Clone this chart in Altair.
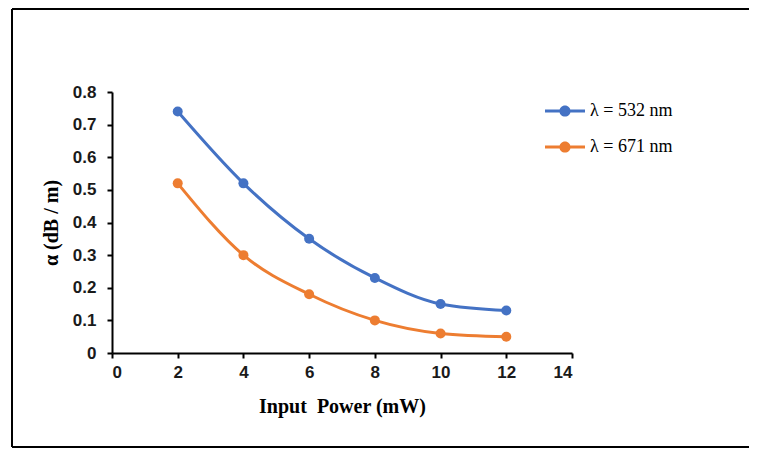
import altair as alt
import pandas as pd

power = [2, 4, 6, 8, 10, 12]
alpha_532 = [0.74, 0.52, 0.35, 0.23, 0.15, 0.13]
alpha_671 = [0.52, 0.30, 0.18, 0.10, 0.06, 0.05]
series = ["λ = 532 nm", "λ = 671 nm"]
colors = ["#4472C4", "#ED7D31"]
x_ticks = [0, 2, 4, 6, 8, 10, 12, 14]
y_ticks = [0, 0.1, 0.2, 0.3, 0.4, 0.5, 0.6, 0.7, 0.8]

rows = []
for p, a in zip(power, alpha_532):
    rows.append({"power": p, "alpha": a, "series": series[0]})
for p, a in zip(power, alpha_671):
    rows.append({"power": p, "alpha": a, "series": series[1]})
df = pd.DataFrame(rows)

W, H = 460, 261
PL, PT = 104, 84
TOTAL_W, TOTAL_H = 741, 440

legend_symbol = ("M-1,-0.075H-0.27V0.075H-1Z M0.27,-0.075H1V0.075H0.27Z "
                 "M-0.28,0 A0.28,0.28 0 1,1 0.28,0 A0.28,0.28 0 1,1 -0.28,0 Z")

legend = alt.Legend(title=None, orient="none", legendX=433, legendY=-1,
                    symbolType=legend_symbol, symbolSize=1600,
                    symbolStrokeWidth=0, symbolOpacity=1,
                    labelFont="Liberation Serif", labelFontSize=18,
                    labelColor="black", labelOffset=5,
                    rowPadding=7, padding=0)

x_enc = alt.X("power:Q", scale=alt.Scale(domain=[0, 14], nice=False),
              axis=alt.Axis(values=x_ticks, title="Input\u00a0 Power (mW)"))
y_enc = alt.Y("alpha:Q", scale=alt.Scale(domain=[0, 0.8], nice=False),
              axis=alt.Axis(values=y_ticks, title="α (dB / m)",
                            labelExpr="datum.value == 0 ? '0' : format(datum.value, '.1f')"))
color_scale = alt.Scale(domain=series, range=colors)

lines = alt.Chart(df).mark_line(interpolate="monotone", strokeWidth=3).encode(
    x=x_enc, y=y_enc,
    color=alt.Color("series:N", scale=color_scale, legend=legend),
)
points = alt.Chart(df).mark_point(filled=True, size=100, opacity=1).encode(
    x=x_enc, y=y_enc,
    color=alt.Color("series:N", scale=color_scale, legend=legend),
)

border_df = pd.DataFrame({"k": [0]})
RIGHT = TOTAL_W - PL + 50
top_rule = alt.Chart(border_df).mark_rule(color="black", strokeWidth=2, clip=False).encode(
    x=alt.value(-100), x2=alt.value(RIGHT), y=alt.value(-PT + 1))
bottom_rule = alt.Chart(border_df).mark_rule(color="black", strokeWidth=2, clip=False).encode(
    x=alt.value(-100), x2=alt.value(RIGHT), y=alt.value(TOTAL_H - PT - 1))
left_rule = alt.Chart(border_df).mark_rule(color="black", strokeWidth=2, clip=False).encode(
    x=alt.value(-100), y=alt.value(-PT + 1), y2=alt.value(TOTAL_H - PT - 1))

chart = alt.layer(top_rule, bottom_rule, left_rule, lines, points).properties(
    width=W, height=H,
    autosize=alt.AutoSizeParams(type="none"),
    padding={"left": PL, "top": PT, "right": TOTAL_W - PL - W, "bottom": TOTAL_H - PT - H},
).configure_view(stroke=None).configure_axis(
    grid=False, domainColor="black", domainWidth=2, tickColor="black", tickWidth=2,
    tickSize=5, labelFont="Liberation Sans", labelFontWeight="bold", labelFontSize=17,
    labelColor="#1a1a1a", titleFont="Liberation Serif", titleFontWeight="bold",
    titleFontSize=20, titleColor="black",
).configure_axisX(labelPadding=6, titlePadding=16).configure_axisY(
    labelPadding=11, titlePadding=11)

chart.save("out.html", embed_options={"renderer": "svg", "actions": False})
